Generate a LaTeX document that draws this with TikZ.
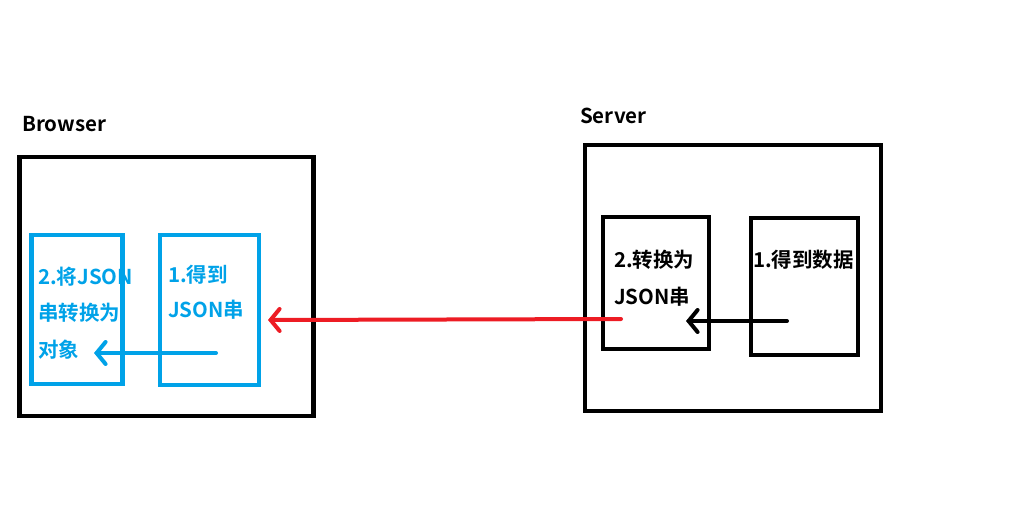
\documentclass[tikz,border=0pt]{standalone}
\usepackage{fontspec}
\setmainfont{Noto Sans CJK SC}[BoldFont={* Bold}]
\usetikzlibrary{arrows.meta}
\definecolor{pblue}{HTML}{00A2E8}
\definecolor{pred}{HTML}{ED1C24}
\tikzset{
  outerbox/.style={draw=black,line width=4.8pt,inner sep=0pt},
  bluebox/.style={draw=pblue,line width=4.8pt,inner sep=0pt},
  blackbox/.style={draw=black,line width=4.8pt,inner sep=0pt},
  lbl/.style={font=\bfseries\fontsize{20.5}{24}\selectfont,anchor=west,inner sep=0pt},
  tip/.style={-{Straight Barb[length=9pt,width=22pt,line width=4pt,line cap=round]},line width=4pt,line cap=round},
}
\begin{document}
\begin{tikzpicture}[x=1pt,y=-1pt]
\useasboundingbox (0,0) rectangle (1018,528);
% browser
\node[lbl] (browserlbl) at (22,124) {Browser};
\node[outerbox,minimum width=294pt,minimum height=259pt] (browser) at (166.5,286.5) {};
\node[bluebox,minimum width=91pt,minimum height=149pt] (b2) at (77,309.5) {};
\node[bluebox,minimum width=99pt,minimum height=150pt] (b1) at (209.5,310) {};
\node[lbl,text=pblue] (b2t1) at (38,277) {2.将JSON};
\node[lbl,text=pblue] (b2t2) at (38,313) {串转换为};
\node[lbl,text=pblue] (b2t3) at (38,350) {对象};
\node[lbl,text=pblue] (b1t1) at (168,275) {1.得到};
\node[lbl,text=pblue] (b1t2) at (168,310) {JSON串};
% server
\node[lbl] (serverlbl) at (580,116) {Server};
\node[outerbox,minimum width=296pt,minimum height=266pt] (server) at (733,278) {};
\node[blackbox,minimum width=106pt,minimum height=132pt] (s2) at (656,283) {};
\node[blackbox,minimum width=107pt,minimum height=137pt] (s1) at (804.5,286.5) {};
\node[lbl] (s2t1) at (614,260) {2.转换为};
\node[lbl] (s2t2) at (614,297) {JSON串};
\node[lbl] (s1t1) at (753,260) {1.得到数据};
% arrows
\coordinate (a1s) at (787,321);
\coordinate (a1e) at (686,321);
\coordinate (a2s) at (621,319);
\coordinate (a2e) at (268,320);
\coordinate (a3s) at (216,353);
\coordinate (a3e) at (94,353);
\draw[tip,black] (a1s) -- (a1e);
\draw[tip,pred] (a2s) -- (a2e);
\draw[tip,pblue] (a3s) -- (a3e);
\end{tikzpicture}
\end{document}
